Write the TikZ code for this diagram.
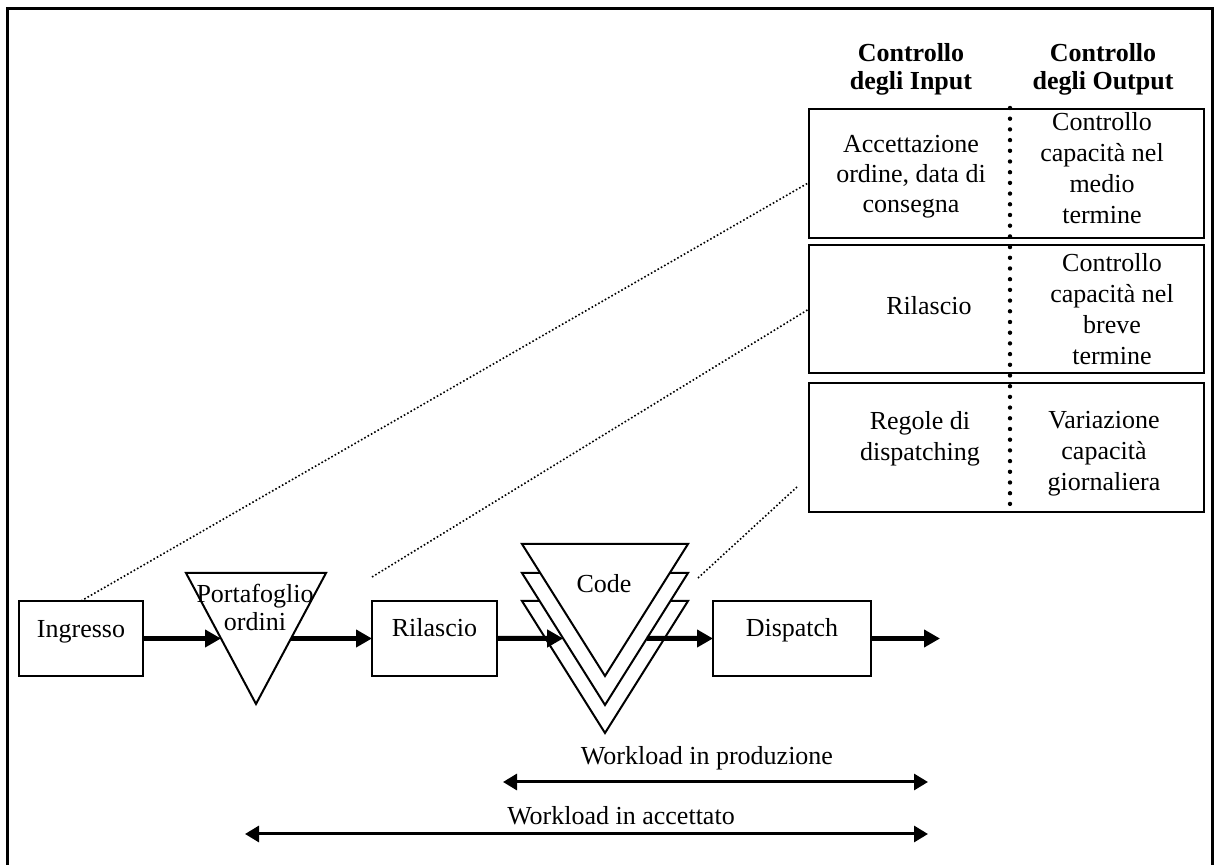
\documentclass[tikz,border=0pt]{standalone}
\usepackage{fontspec}
\setmainfont{Liberation Serif}
\usetikzlibrary{arrows.meta,calc}

\begin{document}
\begin{tikzpicture}[x=0.5pt,y=-0.5pt,
  box/.style={draw,line width=1pt,inner sep=0pt,outer sep=0pt},
  tri/.style={draw,line width=1pt,fill=white,line join=miter},
  txt/.style={inner sep=0pt,outer sep=0pt,font=\fontsize{13}{15}\selectfont},
  block/.style={inner sep=0pt,outer sep=0pt,align=center,anchor=north,
    font=\fontsize{13}{#1}\selectfont},
  head/.style={inner sep=0pt,outer sep=0pt,align=center,anchor=north,
    font=\bfseries\fontsize{13}{14}\selectfont},
  flow/.style={line width=2.5pt,-{Triangle[length=8pt,width=8.5pt]}},
  span/.style={line width=1.5pt,
    {Triangle[length=7pt,width=8pt]}-{Triangle[length=7pt,width=8pt]}},
  leader/.style={line width=0.8pt,dash pattern=on 0.8pt off 1.1pt},
  divider/.style={line width=2.2pt,line cap=round,dash pattern=on 0pt off 5.35pt}]

\useasboundingbox (0,0) rectangle (1217,865);

% outer frame (open at the bottom)
\draw[line width=1.5pt,line join=miter] (7,865) -- (7,9) -- (1212,9) -- (1212,865);

% column headers
\node[head] (hdr-in)  at (911,42.4)  {\strut Controllo\\\strut degli Input};
\node[head] (hdr-out) at (1103,42.4) {\strut Controllo\\\strut degli Output};

% control boxes
\node[box,minimum width=197.5pt,minimum height=64.5pt] (ctl1) at (1006.5,173.5) {};
\node[box,minimum width=197.5pt,minimum height=64pt]   (ctl2) at (1006.5,309) {};
\node[box,minimum width=197.5pt,minimum height=64.5pt] (ctl3) at (1006.5,447.5) {};

% dotted divider between input and output controls
\coordinate (div-t) at (1010,108);
\coordinate (div-b) at (1010,504);
\draw[divider] (div-t) -- (div-b);

\node[block=15] (ctl1-in) at (911,132)
  {\strut Accettazione\\\strut ordine, data di\\\strut consegna};
\node[block=15.35] (ctl1-out) at (1102,109.5)
  {\strut Controllo\\\strut capacità nel\\\strut medio\\\strut termine};
\node[txt,anchor=base] (ctl2-in) at (929,315) {Rilascio};
\node[block=15.35] (ctl2-out) at (1112,250.5)
  {\strut Controllo\\\strut capacità nel\\\strut breve\\\strut termine};
\node[block=15.75] (ctl3-in) at (920,407)
  {\strut Regole di\\\strut dispatching};
\node[block=15.5] (ctl3-out) at (1104,407.3)
  {\strut Variazione\\\strut capacità\\\strut giornaliera};

% flow boxes
\node[box,minimum width=62pt,minimum height=37.5pt]   (ing) at (81,638.5) {};
\node[box,minimum width=62.5pt,minimum height=37.5pt] (ril) at (434.5,638.5) {};
\node[box,minimum width=79pt,minimum height=37.5pt]   (dis) at (792,638.5) {};
\node[txt,anchor=base] (ing-txt) at (81,638) {Ingresso};
\node[txt,anchor=base] (ril-txt) at (434.5,637) {Rilascio};
\node[txt,anchor=base] (dis-txt) at (792,637) {Dispatch};

% order portfolio
\coordinate (pf-l) at (186,573);
\coordinate (pf-r) at (326,573);
\coordinate (pf-b) at (256,704);
\draw[tri] (pf-l) -- (pf-r) -- (pf-b) -- cycle;
\node[block=12.5] (pf-txt) at (255,584.5) {\strut Portafoglio\\\strut ordini};

% stacked queues (back to front)
\coordinate (cq3-l) at (522,601);
\coordinate (cq3-r) at (688,601);
\coordinate (cq3-b) at (605,733);
\coordinate (cq2-l) at (522,573);
\coordinate (cq2-r) at (688,573);
\coordinate (cq2-b) at (605,705);
\coordinate (cq1-l) at (522,544);
\coordinate (cq1-r) at (688,544);
\coordinate (cq1-b) at (605,676);
\draw[tri] (cq3-l) -- (cq3-r) -- (cq3-b) -- cycle;
\draw[tri] (cq2-l) -- (cq2-r) -- (cq2-b) -- cycle;
\draw[tri] (cq1-l) -- (cq1-r) -- (cq1-b) -- cycle;
\node[txt,anchor=base] (cq-txt) at (604,592.5) {Code};

% material flow
\coordinate (exit) at (940,638.5);
\draw[flow] (ing.east) -- ($(pf-l)!0.5!(pf-b)$);
\draw[flow] ($(pf-r)!0.5!(pf-b)$) -- (ril.west);
\draw[flow] (ril.east) -- ($(cq2-l)!0.496!(cq2-b)$);
\draw[flow] ($(cq2-r)!0.496!(cq2-b)$) -- (dis.west);
\draw[flow] (dis.east) -- (exit);

% leader lines to the control boxes
\coordinate (ld2) at (372,577);
\coordinate (ld3-s) at (698,578);
\coordinate (ld3-e) at (797,487);
\draw[leader] (ing.north) -- ($(ctl1.north west)!0.57!(ctl1.south west)$);
\draw[leader] (ld2) -- (ctl2.west);
\draw[leader] (ld3-s) -- (ld3-e);

% workload spans
\coordinate (wp-l) at (503,782);
\coordinate (wp-r) at (928,782);
\coordinate (wa-l) at (245,834);
\coordinate (wa-r) at (928,834);
\draw[span] (wp-l) -- (wp-r);
\draw[span] (wa-l) -- (wa-r);
\node[txt,anchor=base] (wp-txt) at (707,765) {Workload in produzione};
\node[txt,anchor=base] (wa-txt) at (621,825) {Workload in accettato};

\end{tikzpicture}
\end{document}
